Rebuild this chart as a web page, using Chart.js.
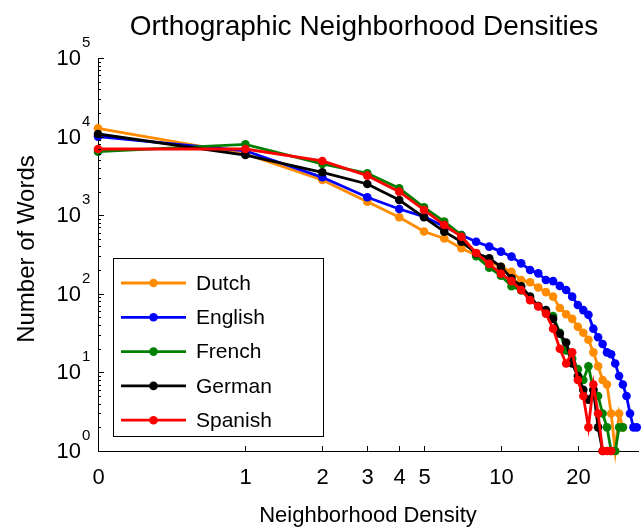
<!DOCTYPE html>
<html>
<head>
<meta charset="utf-8">
<script src="https://cdn.jsdelivr.net/npm/chart.js@4.4.1/dist/chart.umd.min.js"></script>
<style>
  html, body { margin: 0; padding: 0; background: #fff; }
  #wrap { width: 643px; height: 528px; }
</style>
</head>
<body>
<div id="wrap"><canvas id="density-chart" width="643" height="528"></canvas></div>
<script>
// Neighborhood density (number of orthographic neighbours)
const DENSITY = [0, 1, 2, 3, 4, 5, 6, 7, 8, 9, 10, 11, 12, 13, 14, 15, 16, 17, 18, 19,
                 20, 21, 22, 23, 24, 25, 26, 27, 28, 29, 30, 31, 32, 33, 34];

// Number of words per density, one array per language
const DUTCH   = [12760, 6000, 2805, 1485, 940, 620, 505, 380, 310, 255, 220, 190, 150, 140, 120, 105, 92,
                 66, 55, 48, 38, 32, 26, 18, 12, 8, 7, 3, 1, 3, 2];
const ENGLISH = [10000, 6600, 3035, 1690, 1200, 960, 720, 560, 460, 398, 344, 297, 244, 201, 182, 150, 145,
                 126, 112, 92, 72, 62, 54, 36, 28, 23, 18, 17, 13, 9, 7, 5, 3, 2, 2];
const FRENCH  = [6430, 7980, 4500, 3410, 2200, 1260, 830, 560, 300, 215, 170, 125, 110, 88, 70, 60, 52,
                 32, 19, 15, 11, 8, 12, 6, 5, 3, 2, 1, 1, 2, 2];
const GERMAN  = [10790, 5830, 3515, 2495, 1560, 940, 617, 460, 327, 283, 221, 157, 125, 92, 70, 62, 48,
                 31, 24, 13, 9, 6, 4.5, 6, 2, 1];
const SPANISH = [6950, 6950, 4900, 3185, 1990, 1165, 750, 533, 330, 240, 180, 145, 112, 83, 69, 56, 36,
                 20, 13, 18, 8, 5, 2, 7, 3, 1, 1, 1];

const LANGUAGES = ['Dutch', 'English', 'French', 'German', 'Spanish'];
const SERIES = [DUTCH, ENGLISH, FRENCH, GERMAN, SPANISH];

// Axis ticks
const X_TICKS = [0, 1, 2, 3, 4, 5, 10, 20];
const Y_EXPONENTS = [0, 1, 2, 3, 4, 5];

// Zero can't live on a log axis, so it gets drawn at this spot
const ZERO_AT = 0.265;
const X_MAX = 34.6;

const FONT = "'Liberation Sans', Arial, Helvetica, sans-serif";
const COLORS = {
    Dutch: '#ff8c00',
    English: '#0000ff',
    French: '#008000',
    German: '#000000',
    Spanish: '#ff0000'
};

function xValue(d) {
    return d === 0 ? ZERO_AT : d;
}

function hline(ctx, x1, y1, x2, y2) {
    ctx.beginPath();
    ctx.moveTo(x1, y1);
    ctx.lineTo(x2, y2);
    ctx.stroke();
}

// MATLAB-ish axes: inward ticks, 10^n labels, titles and the boxed legend
const decorPlugin = {
    id: 'matlabDecor',
    afterDraw(chart) {
        const { ctx, chartArea } = chart;
        const xs = chart.scales.x;
        const ys = chart.scales.y;
        const left = chartArea.left;
        const bottom = chartArea.bottom;

        ctx.save();
        ctx.strokeStyle = '#000';
        ctx.fillStyle = '#000';
        ctx.lineWidth = 1;

        // y ticks + labels
        Y_EXPONENTS.forEach(e => {
            const py = Math.round(ys.getPixelForValue(Math.pow(10, e))) + 0.5;
            hline(ctx, left, py, left + 6, py);
            if (e < 5) {
                for (let m = 2; m <= 9; m++) {
                    const pm = Math.round(ys.getPixelForValue(m * Math.pow(10, e))) + 0.5;
                    hline(ctx, left, pm, left + 3, pm);
                }
            }
            ctx.font = `22px ${FONT}`;
            ctx.textAlign = 'right';
            ctx.textBaseline = 'middle';
            ctx.fillText('10', 81, py);
            ctx.font = `15px ${FONT}`;
            ctx.textAlign = 'left';
            ctx.fillText(String(e), 82, py - 16);
        });

        // x ticks + labels
        X_TICKS.forEach(v => {
            const px = Math.round(xs.getPixelForValue(xValue(v))) + 0.5;
            if (v !== 0) hline(ctx, px, bottom, px, bottom - 5);
            ctx.font = `22px ${FONT}`;
            ctx.textAlign = 'center';
            ctx.textBaseline = 'middle';
            ctx.fillText(String(v), px, 478);
        });

        // titles
        ctx.textAlign = 'center';
        ctx.textBaseline = 'middle';
        ctx.font = `28px ${FONT}`;
        ctx.fillText('Orthographic Neighborhood Densities', 364, 27);
        ctx.font = `22px ${FONT}`;
        ctx.fillText('Neighborhood Density', 368, 516);
        ctx.save();
        ctx.translate(27, 249);
        ctx.rotate(-Math.PI / 2);
        ctx.font = `24px ${FONT}`;
        ctx.fillText('Number of Words', 0, 0);
        ctx.restore();

        // legend
        const box = { x: 113.5, y: 258.5, w: 210, h: 178 };
        ctx.fillStyle = '#fff';
        ctx.fillRect(box.x, box.y, box.w, box.h);
        ctx.strokeStyle = '#000';
        ctx.strokeRect(box.x, box.y, box.w, box.h);
        LANGUAGES.forEach((name, i) => {
            const ry = 283 + i * 34.3;
            const col = COLORS[name];
            ctx.strokeStyle = col;
            ctx.fillStyle = col;
            ctx.lineWidth = 2.8;
            hline(ctx, 121, ry, 186, ry);
            ctx.beginPath();
            ctx.arc(153.5, ry, 4.3, 0, Math.PI * 2);
            ctx.fill();
            ctx.fillStyle = '#000';
            ctx.font = `21px ${FONT}`;
            ctx.textAlign = 'left';
            ctx.textBaseline = 'middle';
            ctx.fillText(name, 196, ry + 1);
        });

        ctx.restore();
    }
};

const datasets = LANGUAGES.map((name, i) => ({
    label: name,
    data: SERIES[i].map((v, j) => ({ x: xValue(DENSITY[j]), y: v })),
    borderColor: COLORS[name],
    backgroundColor: COLORS[name],
    borderWidth: 2.8,
    pointRadius: 4.3,
    pointBorderWidth: 0,
    pointHoverRadius: 4.3,
    tension: 0,
    clip: false,
    // Spanish ends up on top, like in the original plot
    order: LANGUAGES.length - i
}));

const axisBase = {
    type: 'logarithmic',
    grid: { display: false, drawTicks: false },
    ticks: { display: false },
    border: { display: true, color: '#000', width: 1 }
};

new Chart(document.getElementById('density-chart'), {
    type: 'line',
    data: { datasets },
    options: {
        responsive: false,
        animation: false,
        layout: { padding: { left: 98, top: 58, right: 0, bottom: 77 } },
        plugins: {
            legend: { display: false },
            title: { display: false },
            tooltip: { enabled: false }
        },
        scales: {
            x: Object.assign({}, axisBase, { min: ZERO_AT, max: X_MAX }),
            y: Object.assign({}, axisBase, { min: 1, max: 100000 })
        }
    },
    plugins: [decorPlugin]
});
</script>
</body>
</html>
